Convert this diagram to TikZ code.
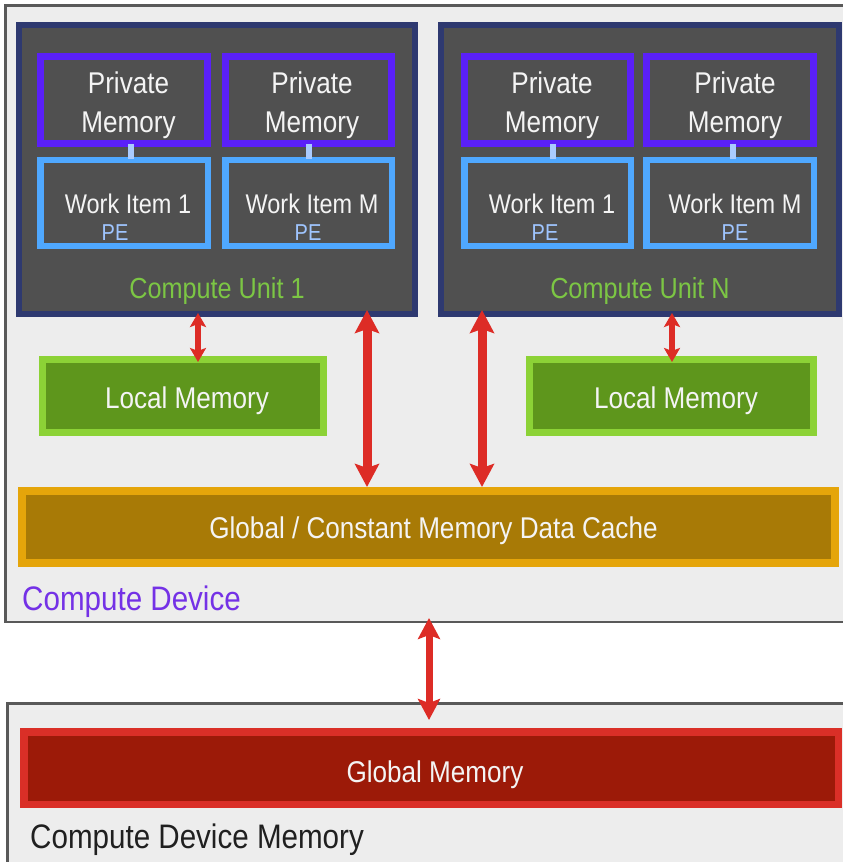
\documentclass[tikz,border=0pt]{standalone}
\usepackage{fontspec}
\setmainfont{Liberation Sans}[FakeStretch=0.87]
\usetikzlibrary{arrows.meta}

\definecolor{devfill}{HTML}{EDEDED}
\definecolor{devline}{HTML}{595959}
\definecolor{culine}{HTML}{2E3970}
\definecolor{cufill}{HTML}{505050}
\definecolor{pmline}{HTML}{5A20F8}
\definecolor{wiline}{HTML}{4FA8FF}
\definecolor{linkcol}{HTML}{A9CBFF}
\definecolor{lmline}{HTML}{8CD236}
\definecolor{lmfill}{HTML}{5E961C}
\definecolor{cacheline}{HTML}{E5A50A}
\definecolor{cachefill}{HTML}{A87A06}
\definecolor{gmline}{HTML}{DA2F27}
\definecolor{gmfill}{HTML}{9C1A08}
\definecolor{txtwhite}{HTML}{F4F4F4}
\definecolor{cugreen}{HTML}{7CC644}
\definecolor{pecol}{HTML}{9FC5FF}
\definecolor{devpurple}{HTML}{7431E6}
\definecolor{darktext}{HTML}{202020}
\definecolor{arrowred}{HTML}{DD2C26}

\tikzset{
  rect/.style={rectangle, inner sep=0pt},
  devbox/.style={rect, draw=devline, fill=devfill, line width=2.5pt},
  cubox/.style={rect, draw=culine, fill=cufill, line width=6pt, minimum width=396pt, minimum height=289pt},
  pmbox/.style={rect, draw=pmline, line width=7pt, minimum width=167pt, minimum height=87pt},
  wibox/.style={rect, draw=wiline, line width=6.5pt, minimum width=167pt, minimum height=86pt},
  lmbox/.style={rect, draw=lmline, fill=lmfill, line width=7pt, minimum height=73pt},
  cachebox/.style={rect, draw=cacheline, fill=cachefill, line width=8pt},
  gmbox/.style={rect, draw=gmline, fill=gmfill, line width=7.5pt},
  linkbar/.style={draw=linkcol, line width=6pt, shorten <=-3pt, shorten >=-2pt},
  lbl/.style={inner sep=0pt, anchor=base},
  pmtext/.style={lbl, text=txtwhite, font=\fontsize{30}{39}\selectfont},
  witext/.style={lbl, text=txtwhite, font=\fontsize{27}{32}\selectfont},
  petext/.style={lbl, text=pecol, font=\fontsize{23}{27}\selectfont},
  cutext/.style={lbl, text=cugreen, font=\fontsize{29}{34}\selectfont},
  memtext/.style={lbl, text=txtwhite, font=\fontsize{30}{36}\selectfont},
  bigh/.tip={Stealth[length=23pt, width=24pt, inset=4pt]},
  smallh/.tip={Stealth[length=14pt, width=16pt, inset=3pt]},
  devh/.tip={Stealth[length=21pt, width=22pt, inset=4pt]},
  bigarrow/.style={draw=arrowred, fill=arrowred, line width=9pt, arrows={bigh-bigh}},
  smallarrow/.style={draw=arrowred, fill=arrowred, line width=6pt, arrows={smallh-smallh}},
  devarrow/.style={draw=arrowred, fill=arrowred, line width=7pt, arrows={devh-devh}},
}

\begin{document}
\begin{tikzpicture}[x=1pt, y=-1pt]
\useasboundingbox (0,0) rectangle (843,862);
\clip (0,0) rectangle (843,862);
\fill[white] (0,0) rectangle (843,862);

% outer frames: the device and its memory
\node[devbox, minimum width=851.5pt, minimum height=616.5pt] (dev) at (431,313.5) {};
\node[devbox, minimum width=849.5pt, minimum height=175.5pt] (mem) at (432,791) {};

% compute units
\node[cubox] (cu1) at (217,169.5) {};
\node[cubox, minimum width=398pt] (cuN) at (640,169.5) {};

% private memories
\node[pmbox] (pm11) at (124,100) {};
\node[pmbox, minimum width=166pt] (pm12) at (308.5,100) {};
\node[pmbox, minimum width=166pt] (pmN1) at (547.5,100) {};
\node[pmbox] (pmN2) at (730,100) {};

% work items
\node[wibox, minimum width=167.5pt] (wi11) at (124,203) {};
\node[wibox, minimum width=166.5pt] (wi12) at (308.5,203) {};
\node[wibox, minimum width=166.5pt] (wiN1) at (547.5,203) {};
\node[wibox, minimum width=167.5pt] (wiN2) at (730,203) {};

% private memory to work item links
\draw[linkbar] ([xshift=7pt]pm11.south) -- ([xshift=7pt]wi11.north);
\draw[linkbar] ([xshift=0.5pt]pm12.south) -- ([xshift=0.5pt]wi12.north);
\draw[linkbar] ([xshift=5.5pt]pmN1.south) -- ([xshift=5.5pt]wiN1.north);
\draw[linkbar] ([xshift=3pt]pmN2.south) -- ([xshift=3pt]wiN2.north);

% labels inside the compute units
\node[pmtext] (pm11t) at (128.5,132) {\begin{tabular}[b]{@{}c@{}}Private\\Memory\end{tabular}};
\node[pmtext] (pm12t) at (312,132) {\begin{tabular}[b]{@{}c@{}}Private\\Memory\end{tabular}};
\node[pmtext] (pmN1t) at (552,132) {\begin{tabular}[b]{@{}c@{}}Private\\Memory\end{tabular}};
\node[pmtext] (pmN2t) at (735,132) {\begin{tabular}[b]{@{}c@{}}Private\\Memory\end{tabular}};

\node[witext] (wi11t) at (128,213) {Work Item 1};
\node[witext] (wi12t) at (312,213) {Work Item M};
\node[witext] (wiN1t) at (552,213) {Work Item 1};
\node[witext] (wiN2t) at (735,213) {Work Item M};

\node[petext] (pe11) at (115,240) {PE};
\node[petext] (pe12) at (308,240) {PE};
\node[petext] (peN1) at (545,240) {PE};
\node[petext] (peN2) at (735,240) {PE};

\node[cutext] (cu1t) at (217,298) {Compute Unit 1};
\node[cutext] (cuNt) at (640,298) {Compute Unit N};

% local memories, cache and global memory
\node[lmbox, minimum width=281pt] (lm1) at (183,396) {};
\node[lmbox, minimum width=284pt] (lmN) at (671.5,396) {};
\node[memtext] (lm1t) at (187,408) {Local Memory};
\node[memtext] (lmNt) at (676,408) {Local Memory};

\node[cachebox, minimum width=813pt, minimum height=72pt] (cache) at (428.5,527) {};
\node[memtext] (cachet) at (433.5,538) {Global / Constant Memory Data Cache};

\node[lbl, anchor=base west, text=devpurple, font=\fontsize{34}{40}\selectfont] (devt) at (22,610) {Compute Device};

\node[gmbox, minimum width=814.5pt, minimum height=72.5pt] (gmem) at (431,768) {};
\node[memtext] (gmemt) at (435,782) {Global Memory};

\node[lbl, anchor=base west, text=darktext, font=\fontsize{34}{40}\selectfont] (memt) at (30,848) {Compute Device Memory};

% data paths
\draw[smallarrow, shorten <=-4pt, shorten >=-6pt] ([xshift=-19pt]cu1.south) -- ([xshift=15pt]lm1.north);
\draw[smallarrow, shorten <=-4pt, shorten >=-6pt] ([xshift=32pt]cuN.south) -- ([xshift=0.5pt]lmN.north);
\draw[bigarrow, shorten <=-7pt] ([xshift=150pt]cu1.south) -- ([xshift=-61.5pt]cache.north);
\draw[bigarrow, shorten <=-7pt] ([xshift=-158pt]cuN.south) -- ([xshift=53.5pt]cache.north);
\draw[devarrow, shorten <=-5pt, shorten >=8pt] ([xshift=-2pt]dev.south) -- ([xshift=-2pt]gmem.north);
\end{tikzpicture}
\end{document}
